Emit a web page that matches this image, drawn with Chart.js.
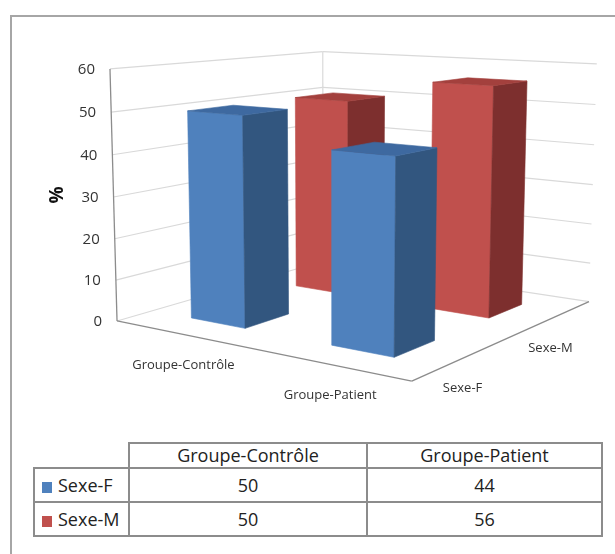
<!DOCTYPE html>
<html>
<head>
<meta charset="utf-8">
<script src="https://cdn.jsdelivr.net/npm/chart.js@4.4.1/dist/chart.umd.min.js"></script>
<style>
    html, body { margin: 0; padding: 0; background: #fff; overflow: hidden; }
    #wrap { position: relative; width: 615px; height: 554px; overflow: hidden; font-family: 'Open Sans', sans-serif; }
    #frame { position: absolute; left: 10px; top: 15px; width: 700px; height: 700px;
             border-left: 2px solid #a6a6a6; border-top: 2px solid #a6a6a6; }
    #chartBox { position: absolute; left: 0; top: 0; width: 615px; height: 430px; }
    #dataTable { position: absolute; left: 33px; top: 442px; border-collapse: collapse; table-layout: fixed;
                 width: 570px; font-size: 18px; color: #222; }
    #dataTable td { border: 2px solid #8c8c8c; text-align: center; padding: 0; white-space: nowrap; }
    #dataTable tr.head td { height: 23px; line-height: 23px; }
    #dataTable tr.row td { height: 32px; }
    #dataTable td.blank { border-top: none; border-left: none; }
    #dataTable td.name { text-align: left; padding-left: 7px; }
    .swatch { display: inline-block; width: 10px; height: 11px; margin-right: 6px; vertical-align: -1px; }
</style>
</head>
<body>
<div id="wrap">
    <div id="frame"></div>
    <div id="chartBox"><canvas id="bars3d" width="615" height="430"></canvas></div>
    <table id="dataTable"></table>
</div>
<script>
const categories = ['Groupe-Contrôle', 'Groupe-Patient'];
const seriesNames = ['Sexe-F', 'Sexe-M'];
const sexeF = [50, 44];
const sexeM = [50, 56];
const yMax = 60;
const yStep = 10;

const palette = [
    { front: '#4f81bd', side: '#32567f', top: '#3e69a0' },
    { front: '#c0504d', side: '#7d2f2e', top: '#a3403d' }
];

// corners of the 3d box (floor / walls) as seen on screen: [X, H, Z, px, py]
const boxCorners = [
    [0, 0, 0, 117, 322],
    [0, 1, 0, 110, 69],
    [0, 5 / 6, 0, 111, 112],
    [0, 0, 1, 323, 260],
    [0, 1, 1, 323, 52],
    [1, 0, 1, 589, 303],
    [1, 1, 1, 597, 63],
    [1, 5 / 6, 1, 595, 105],
    [1, 0, 0, 412, 380]
];

// least squares camera matrix (p34 = 1)
function fitCamera(pts) {
    const n = 11;
    const M = [...Array(n)].map(() => new Array(n + 1).fill(0));
    const addRow = (row, rhs) => {
        for (let i = 0; i < n; i++) {
            for (let j = 0; j < n; j++) M[i][j] += row[i] * row[j];
            M[i][n] += row[i] * rhs;
        }
    };
    pts.forEach(([X, Y, Z, u, v]) => {
        addRow([X, Y, Z, 1, 0, 0, 0, 0, -u * X, -u * Y, -u * Z], u);
        addRow([0, 0, 0, 0, X, Y, Z, 1, -v * X, -v * Y, -v * Z], v);
    });
    for (let c = 0; c < n; c++) {
        let p = c;
        for (let r = c + 1; r < n; r++) if (Math.abs(M[r][c]) > Math.abs(M[p][c])) p = r;
        [M[c], M[p]] = [M[p], M[c]];
        for (let r = 0; r < n; r++) {
            if (r === c) continue;
            const f = M[r][c] / M[c][c];
            for (let k = c; k <= n; k++) M[r][k] -= f * M[c][k];
        }
    }
    return M.map((row, i) => row[n] / row[i]);
}

const cam = fitCamera(boxCorners);
function P(X, Y, Z) {
    const w = cam[8] * X + cam[9] * Y + cam[10] * Z + 1;
    return [(cam[0] * X + cam[1] * Y + cam[2] * Z + cam[3]) / w,
            (cam[4] * X + cam[5] * Y + cam[6] * Z + cam[7]) / w];
}

function line(ctx, a, b, color, width) {
    ctx.beginPath();
    ctx.moveTo(a[0], a[1]);
    ctx.lineTo(b[0], b[1]);
    ctx.strokeStyle = color;
    ctx.lineWidth = width;
    ctx.stroke();
}

function face(ctx, pts, color) {
    ctx.beginPath();
    pts.forEach((p, i) => i ? ctx.lineTo(p[0], p[1]) : ctx.moveTo(p[0], p[1]));
    ctx.closePath();
    ctx.fillStyle = color;
    ctx.fill();
    ctx.strokeStyle = color;
    ctx.lineWidth = 0.6;
    ctx.stroke();
}

const box3d = {
    id: 'box3d',
    afterDraw(chart) {
        const ctx = chart.ctx;
        const area = chart.chartArea;
        const yScale = chart.scales.y;
        const xScale = chart.scales.x;
        const base = yScale.getPixelForValue(0);
        const full = base - yScale.getPixelForValue(yScale.max);
        const hOf = v => (base - yScale.getPixelForValue(v)) / full;
        const ticks = yScale.ticks.length ? yScale.ticks.map(t => t.value) : [0, 10, 20, 30, 40, 50, 60];

        ctx.save();
        // walls and gridlines
        ticks.forEach(v => {
            const h = hOf(v);
            line(ctx, P(0, h, 0), P(0, h, 1), '#d9d9d9', 1.2);
            line(ctx, P(0, h, 1), P(1, h, 1), '#d9d9d9', 1.2);
        });
        line(ctx, P(0, 0, 1), P(0, 1, 1), '#d9d9d9', 1.2);
        // axes
        line(ctx, P(0, 0, 0), P(0, 1, 0), '#8c8c8c', 1.3);
        line(ctx, P(0, 0, 0), P(1, 0, 0), '#8c8c8c', 1.3);
        line(ctx, P(1, 0, 0), P(1, 0, 1), '#8c8c8c', 1.3);

        // tick labels
        ctx.font = '15px "Open Sans"';
        ctx.fillStyle = '#333';
        ctx.textAlign = 'right';
        ctx.textBaseline = 'middle';
        ticks.forEach(v => {
            const p = P(0, hOf(v), 0);
            ctx.fillText(String(v), p[0] - 15, p[1] + 1);
        });

        // axis title
        ctx.save();
        ctx.translate(58, 195);
        ctx.rotate(-Math.PI / 2);
        ctx.font = 'bold 19px "Open Sans"';
        ctx.fillStyle = '#111';
        ctx.textAlign = 'center';
        ctx.fillText('%', 0, 0);
        ctx.restore();

        // category labels
        ctx.font = '13px "Open Sans"';
        ctx.fillStyle = '#333';
        ctx.textAlign = 'center';
        chart.data.labels.forEach((lab, i) => {
            const u = (xScale.getPixelForValue(i) - area.left) / area.width;
            const p = P(u, 0, 0);
            ctx.fillText(lab, p[0] + 1, p[1] + 31);
        });
        const nS = chart.data.datasets.length;
        chart.data.datasets.forEach((ds, d) => {
            const p = P(1, 0, (d + 0.5) / nS);
            ctx.fillText(ds.label, p[0] - 1, p[1] + 30);
        });

        // bars, back to front
        const boxes = [];
        chart.data.datasets.forEach((ds, d) => {
            const meta = chart.getDatasetMeta(d);
            meta.data.forEach((el, i) => {
                const pr = el.getProps(['x', 'y', 'base', 'width'], true);
                const u = (pr.x - area.left) / area.width;
                const hw = pr.width / 2 / area.width;
                const hd = hw * chart.data.labels.length / nS;
                const w = (d + 0.5) / nS;
                const h = (pr.base - pr.y) / full;
                boxes.push({ d, i, x0: u - hw, x1: u + hw, z0: w - hd, z1: w + hd, h });
            });
        });
        boxes.sort((a, b) => (b.z0 - a.z0) || (a.x0 - b.x0));
        boxes.forEach(b => {
            const col = palette[b.d];
            face(ctx, [P(b.x0, 0, b.z0), P(b.x1, 0, b.z0), P(b.x1, b.h, b.z0), P(b.x0, b.h, b.z0)], col.front);
            face(ctx, [P(b.x1, 0, b.z0), P(b.x1, 0, b.z1), P(b.x1, b.h, b.z1), P(b.x1, b.h, b.z0)], col.side);
            face(ctx, [P(b.x0, b.h, b.z0), P(b.x1, b.h, b.z0), P(b.x1, b.h, b.z1), P(b.x0, b.h, b.z1)], col.top);
        });
        ctx.restore();
    }
};

new Chart(document.getElementById('bars3d'), {
    type: 'bar',
    data: {
        labels: categories,
        datasets: [
            { label: seriesNames[0], data: sexeF },
            { label: seriesNames[1], data: sexeM }
        ]
    },
    options: {
        responsive: false,
        animation: false,
        devicePixelRatio: 1,
        grouped: false,
        barPercentage: 0.4,
        categoryPercentage: 1,
        backgroundColor: 'rgba(0,0,0,0)',
        borderWidth: 0,
        layout: { padding: 0 },
        plugins: { legend: { display: false }, tooltip: { enabled: false } },
        scales: {
            x: { display: false },
            y: { display: false, min: 0, max: yMax, ticks: { stepSize: yStep } }
        }
    },
    plugins: [box3d]
});

// data table under the chart
const table = document.getElementById('dataTable');
const colWidths = [95, 238, 235];
let html = '<colgroup>' + colWidths.map(w => '<col style="width:' + w + 'px">').join('') + '</colgroup>';
html += '<tr class="head"><td class="blank"></td>';
categories.forEach(c => { html += '<td>' + c + '</td>'; });
html += '</tr>';
[sexeF, sexeM].forEach((vals, s) => {
    html += '<tr class="row"><td class="name"><span class="swatch" style="background:' + palette[s].front + '"></span>' + seriesNames[s] + '</td>';
    vals.forEach(v => { html += '<td>' + v + '</td>'; });
    html += '</tr>';
});
table.innerHTML = html;
</script>
</body>
</html>
